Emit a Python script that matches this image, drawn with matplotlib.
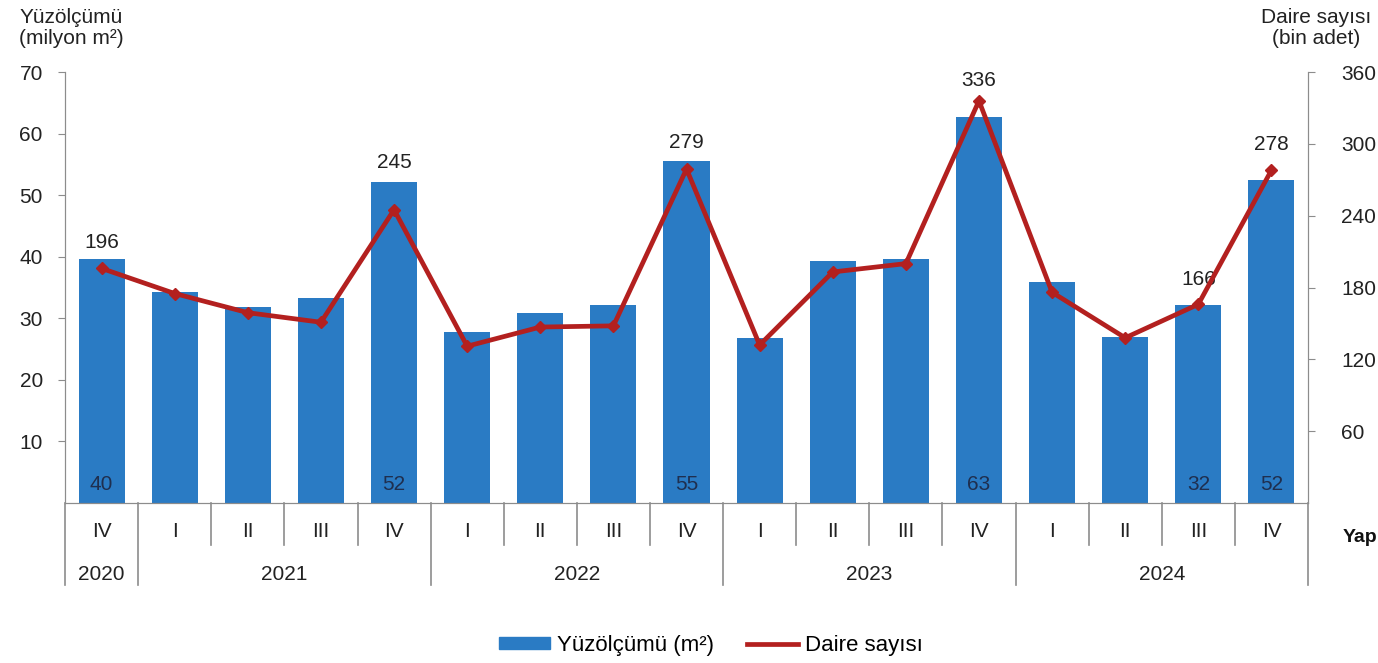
import matplotlib
matplotlib.use("Agg")
import matplotlib.pyplot as plt
import matplotlib.transforms as mtransforms
from matplotlib.patches import Patch
from matplotlib.lines import Line2D

plt.rcParams['font.family'] = ['Liberation Sans', 'DejaVu Sans']

# data
quarters = ['IV', 'I', 'II', 'III', 'IV', 'I', 'II', 'III', 'IV',
            'I', 'II', 'III', 'IV', 'I', 'II', 'III', 'IV']
years = ['2020', '2021', '2022', '2023', '2024']
year_spans = [(0, 0), (1, 4), (5, 8), (9, 12), (13, 16)]
area = [39.6, 34.3, 31.8, 33.3, 52.1, 27.8, 30.9, 32.2, 55.5,
        26.8, 39.3, 39.6, 62.7, 35.9, 27.0, 32.2, 52.5]
area_labels = {0: '40', 4: '52', 8: '55', 12: '63', 15: '32', 16: '52'}
dwellings = [196, 175, 159, 151, 245, 131, 147, 148, 279,
             132, 193, 200, 336, 176, 138, 166, 278]
dw_labels = [0, 4, 8, 12, 15, 16]
# vertical offset (points) of each line label above its marker
dw_offsets = {0: 12, 4: 27, 8: 12, 12: 8, 15: 11, 16: 12}

blue = '#2A7BC4'
red = '#B3201F'
grey = '#8C8C8C'
txt = '#222222'
fs = 15

fig = plt.figure(figsize=(13.78, 6.63), dpi=100)
ax = fig.add_axes([0.0472, 0.2413, 0.902, 0.650])
ax2 = ax.twinx()

x = list(range(len(area)))
ax.bar(x, area, width=0.63, color=blue, zorder=2)
for i, t in area_labels.items():
    ax.text(i, 1.4, t, ha='center', va='bottom', fontsize=fs, color='#1F2F4F', zorder=3)

ax2.plot(x, dwellings, color=red, lw=3.4, marker='D', markersize=6, zorder=4)
for i in dw_labels:
    ax2.annotate(str(dwellings[i]), (i, dwellings[i]), xytext=(0, dw_offsets[i]),
                 textcoords='offset points', ha='center', va='bottom',
                 fontsize=fs, color=txt)

ax.set_xlim(-0.5, len(area) - 0.5)
ax.set_ylim(0, 70)
ax2.set_ylim(0, 360)
ax.set_yticks(range(10, 71, 10))
ax2.set_yticks(range(60, 361, 60))
ax.set_xticks([])

for a in (ax, ax2):
    for s in a.spines.values():
        s.set_color(grey)
    a.spines['top'].set_visible(False)
ax.tick_params(axis='y', direction='out', length=5, color=grey, labelsize=fs,
               labelcolor=txt, pad=11)
ax2.tick_params(axis='y', direction='out', length=5, color=grey, labelsize=fs,
                labelcolor=txt, pad=19)

# category axis: quarters and years with separators
trans = mtransforms.blended_transform_factory(ax.transData, ax.transAxes)
year_bounds = [-0.5] + [e + 0.5 for _, e in year_spans]
for k in range(len(area) + 1):
    b = k - 0.5
    y_end = -0.19 if b in year_bounds else -0.097
    ax.plot([b, b], [0, y_end], transform=trans, color=grey, lw=1.2, clip_on=False)
for i, q in enumerate(quarters):
    ax.text(i, -0.066, q, transform=trans, ha='center', va='center',
            fontsize=fs, color=txt)
for yr, (s, e) in zip(years, year_spans):
    ax.text((s + e) / 2, -0.165, yr, transform=trans, ha='center', va='center',
            fontsize=fs, color=txt)

fig.text(0.014, 0.988, 'Yüzölçümü\n(milyon m²)', ha='left', va='top',
         fontsize=fs, color=txt, linespacing=1.15)
fig.text(0.955, 0.988, 'Daire sayısı\n(bin adet)', ha='center', va='top',
         fontsize=fs, color=txt, linespacing=1.15)
fig.text(0.9995, 0.19, 'Yap', ha='right', va='center',
         fontsize=14, fontweight='bold', color='#111111')

handles = [Patch(color=blue), Line2D([0], [0], color=red, lw=3.4)]
fig.legend(handles, ['Yüzölçümü (m²)', 'Daire sayısı'], loc='center',
           bbox_to_anchor=(0.516, 0.027), ncol=2, frameon=False, fontsize=16,
           handlelength=2.3, handleheight=0.45, handletextpad=0.3,
           columnspacing=1.5)

fig.savefig('out.png', dpi=100)
